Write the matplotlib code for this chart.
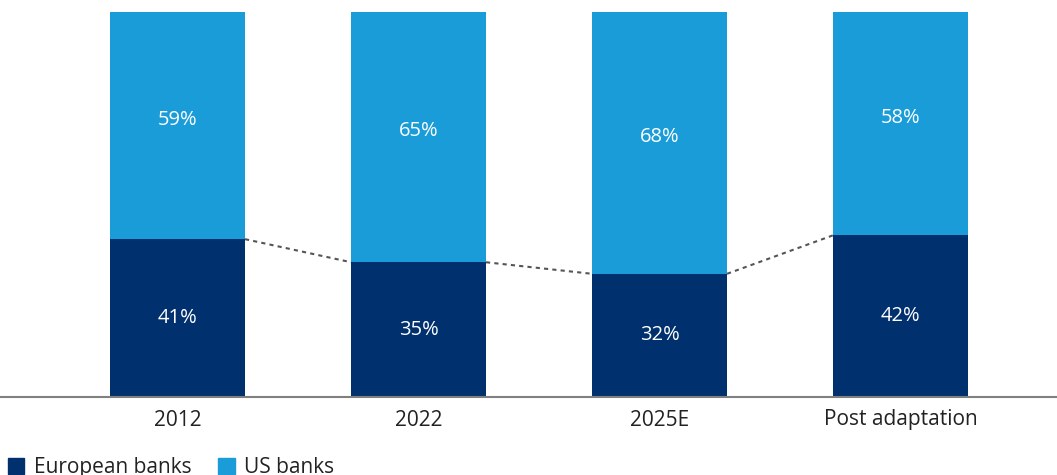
import matplotlib.pyplot as plt
import matplotlib.patches as mpatches
import numpy as np

plt.rcParams['font.family'] = ['Open Sans', 'DejaVu Sans']

categories = ['2012', '2022', '2025E', 'Post adaptation']
european = [41, 35, 32, 42]
us = [59, 65, 68, 58]

dark = '#00306E'
light = '#199CD8'

fig = plt.figure(figsize=(10.57, 4.75), dpi=100)
ax = fig.add_axes([0, 78 / 475, 1, 385 / 475])

x = np.arange(len(categories))
w = 0.56
ax.bar(x, european, width=w, color=dark)
ax.bar(x, us, width=w, bottom=european, color=light)

for i in range(len(categories)):
    ax.text(x[i], european[i] / 2, f'{european[i]}%', ha='center', va='center',
            color='white', fontsize=14.5)
    ax.text(x[i], european[i] + us[i] / 2 + 1.5, f'{us[i]}%', ha='center', va='center',
            color='white', fontsize=14.5)

# dotted connectors between european tops
for i in range(len(categories) - 1):
    ax.plot([x[i] + w / 2, x[i + 1] - w / 2], [european[i], european[i + 1]],
            color='#555555', linestyle=(0, (2, 2)), linewidth=1.5)

ax.set_xlim(-0.7365, 3.649)
ax.set_ylim(0, 100)
ax.set_xticks(x)
ax.set_xticklabels(categories, fontsize=15, color='#222222')
ax.tick_params(axis='x', length=0, pad=9)
ax.set_yticks([])
for s in ['top', 'right', 'left']:
    ax.spines[s].set_visible(False)
ax.spines['bottom'].set_color('#808080')
ax.spines['bottom'].set_linewidth(1.5)

handles = [mpatches.Patch(color=dark, label='European banks'),
           mpatches.Patch(color=light, label='US banks')]
fig.legend(handles=handles, loc='upper left', bbox_to_anchor=(8 / 1057, 18 / 475), ncol=2,
           frameon=False, fontsize=15, handlelength=0.78, handleheight=0.78,
           handletextpad=0.45, columnspacing=1.3, labelcolor='#222222',
           borderpad=0, borderaxespad=0)

fig.savefig('out.png', dpi=100)
